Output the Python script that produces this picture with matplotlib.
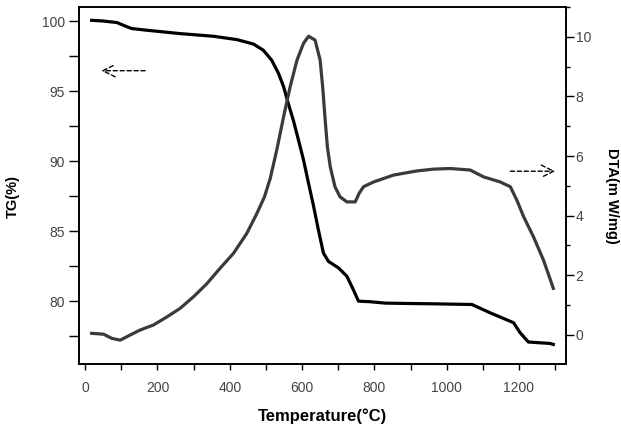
import numpy as np
import matplotlib
matplotlib.use("Agg")
import matplotlib.pyplot as plt
from matplotlib.ticker import MultipleLocator

plt.rcParams['font.family'] = ['Liberation Sans', 'DejaVu Sans']

# TG curve (left axis)
tg_temp = [18, 50, 88, 110, 129, 171, 263, 355, 420, 466, 493, 516, 535, 549, 562,
           576, 590, 604, 618, 632, 645, 659, 673, 701, 724, 742, 756, 788, 830,
           900, 964, 1070, 1120, 1185, 1203, 1226, 1286, 1295]
tg_val = [100.05, 100.0, 99.89, 99.65, 99.46, 99.34, 99.1, 98.91, 98.67, 98.35,
          97.91, 97.2, 96.25, 95.3, 94.1, 92.9, 91.5, 90.08, 88.4, 86.75, 85.1,
          83.43, 82.83, 82.36, 81.77, 80.8, 79.99, 79.95, 79.85, 79.82, 79.8, 79.75,
          79.16, 78.45, 77.74, 77.07, 76.97, 76.9]

# DTA curve (right axis)
dta_temp = [18, 51, 74, 97, 124, 152, 189, 226, 263, 300, 337, 373, 410, 447, 475,
            496, 512, 530, 549, 567, 586, 604, 618, 636, 650, 657, 664, 670, 678,
            691, 705, 724, 747, 758, 770, 798, 853, 918, 964, 1010, 1065, 1102, 1148,
            1176, 1194, 1213, 1240, 1268, 1295]
dta_val = [0.05, 0.02, -0.12, -0.18, -0.01, 0.16, 0.33, 0.6, 0.89, 1.28, 1.72, 2.23,
           2.73, 3.4, 4.07, 4.63, 5.25, 6.2, 7.32, 8.32, 9.22, 9.78, 10.02, 9.89,
           9.22, 8.32, 7.2, 6.31, 5.64, 4.97, 4.63, 4.46, 4.46, 4.75, 4.97, 5.13,
           5.36, 5.5, 5.56, 5.58, 5.53, 5.3, 5.13, 4.97, 4.52, 3.96, 3.29, 2.5, 1.56]

# direction arrows (tail, head) in data coords of each axis
tg_arrow = ((166, 96.45), (45, 96.45))
dta_arrow = ((1176, 5.49), (1300, 5.49))

tick_color = "#444444"

fig = plt.figure(figsize=(6.21, 4.25), dpi=100)
ax = fig.add_axes([0.1272, 0.1435, 0.7842, 0.84])
ax2 = ax.twinx()

ax.plot(tg_temp, tg_val, color="black", lw=2.3, solid_joinstyle="round")
ax2.plot(dta_temp, dta_val, color="#3a3a3a", lw=2.3, solid_joinstyle="round")

ax.set_xlim(-17, 1330)
ax.set_ylim(75.5, 101.0)
ax2.set_ylim(-0.98, 11.0)

ax.xaxis.set_major_locator(MultipleLocator(200))
ax.xaxis.set_minor_locator(MultipleLocator(100))
ax.yaxis.set_major_locator(MultipleLocator(5))
ax.yaxis.set_minor_locator(MultipleLocator(2.5))
ax2.yaxis.set_major_locator(MultipleLocator(2))
ax2.yaxis.set_minor_locator(MultipleLocator(1))

for a in (ax, ax2):
    for s in a.spines.values():
        s.set_linewidth(1.2)

ax.tick_params(axis="y", which="both", direction="out", length=7, width=1,
               labelsize=10, labelcolor=tick_color, pad=3)
ax.tick_params(axis="x", which="both", direction="out", length=4, width=1,
               labelsize=10, labelcolor=tick_color, pad=8)
ax2.tick_params(axis="y", which="major", direction="out", length=6, width=1,
                labelsize=10, labelcolor=tick_color, pad=1)
ax2.tick_params(axis="y", which="minor", direction="out", length=3, width=1)

ax.set_xlabel("Temperature(\u00b0C)", fontsize=12, fontweight="bold", labelpad=10)
ax.set_ylabel("TG(%)", fontsize=10.5, fontweight="bold", va="center")
ax.yaxis.set_label_coords(-0.135, 0.47)
ax2.set_ylabel("DTA(m W/mg)", fontsize=10.5, fontweight="bold", rotation=270,
               va="center")
ax2.yaxis.set_label_coords(1.094, 0.47)

ax.annotate("", xy=tg_arrow[1], xytext=tg_arrow[0],
            arrowprops=dict(arrowstyle="->", linestyle=(0, (3, 2)), lw=1,
                            color="black", mutation_scale=22, shrinkA=0, shrinkB=0))
ax2.annotate("", xy=dta_arrow[1], xytext=dta_arrow[0],
             arrowprops=dict(arrowstyle="->", linestyle=(0, (3, 2)), lw=1,
                             color="black", mutation_scale=22, shrinkA=0, shrinkB=0))

fig.savefig("out.png", dpi=100)
